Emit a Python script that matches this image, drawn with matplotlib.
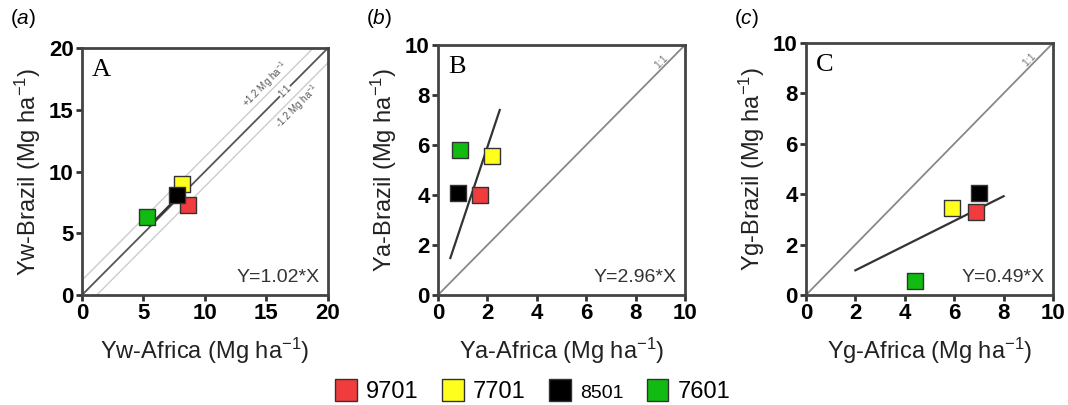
import matplotlib
matplotlib.use("Agg")
import matplotlib.pyplot as plt
from matplotlib.patches import Patch

plt.rcParams['font.family'] = ['Liberation Sans', 'DejaVu Sans']
plt.rcParams['mathtext.fontset'] = 'custom'
plt.rcParams['mathtext.rm'] = 'Liberation Sans'
plt.rcParams['mathtext.it'] = 'Liberation Sans:italic'

varieties = ["9701", "7701", "8501", "7601"]
colors = ["#f03c3c", "#ffff1e", "#000000", "#11bb11"]

# Panel A: water-limited yield (Yw)
yw_africa = [8.6, 8.1, 7.7, 5.3]
yw_brazil = [7.3, 9.0, 8.1, 6.3]
# Panel B: actual yield (Ya)
ya_africa = [1.7, 2.2, 0.8, 0.9]
ya_brazil = [4.0, 5.55, 4.1, 5.8]
# Panel C: yield gap (Yg)
yg_africa = [6.9, 5.9, 7.0, 4.4]
yg_brazil = [3.3, 3.45, 4.05, 0.55]

slopes = [1.02, 2.96, 0.49]
fit_ranges = [(5.5, 8.0), (0.5, 2.5), (2.0, 8.0)]
limits = [20, 10, 10]
ticks = [[0, 5, 10, 15, 20], [0, 2, 4, 6, 8, 10], [0, 2, 4, 6, 8, 10]]
prefixes = ["Yw", "Ya", "Yg"]
panel_tags = ["a", "b", "c"]
letters = ["A", "B", "C"]
xs = [yw_africa, ya_africa, yg_africa]
ys = [yw_brazil, ya_brazil, yg_brazil]

fig = plt.figure(figsize=(10.68, 4.05), dpi=100)
lefts = [82, 438, 806]
rights = [328, 685, 1053]
tops = [48, 45, 43]
bottom_px = 295

for i in range(3):
    ax = fig.add_axes([lefts[i] / 1068, (405 - bottom_px) / 405,
                       (rights[i] - lefts[i]) / 1068, (bottom_px - tops[i]) / 405])
    lim = limits[i]
    ax.set_xlim(0, lim)
    ax.set_ylim(0, lim)
    if i == 0:
        ax.plot([0, lim], [0, lim], color="#555555", lw=1.3, zorder=1)
        ax.plot([0, lim], [1.2, lim + 1.2], color="#cccccc", lw=1.0, zorder=1)
        ax.plot([0, lim], [-1.2, lim - 1.2], color="#cccccc", lw=1.0, zorder=1)
        ax.text(14.9, 17.0, "+1.2 Mg ha$^{-1}$", rotation=45, fontsize=7, color="#555555",
                ha="center", va="center")
        ax.text(16.5, 16.5, "1:1", rotation=45, fontsize=7, color="#555555",
                ha="center", va="center",
                bbox=dict(facecolor="white", edgecolor="none", pad=0.3))
        ax.text(17.5, 15.3, "-1.2 Mg ha$^{-1}$", rotation=45, fontsize=7, color="#555555",
                ha="center", va="center")
    else:
        ax.plot([0, lim], [0, lim], color="#888888", lw=1.3, zorder=1)
        ax.text(9.05, 9.35, "1:1", rotation=45, fontsize=7.5, color="#777777",
                ha="center", va="center")
    x0, x1 = fit_ranges[i]
    ax.plot([x0, x1], [slopes[i] * x0, slopes[i] * x1], color="#333333", lw=1.6, zorder=2)
    for xv, yv, c in zip(xs[i], ys[i], colors):
        ax.scatter([xv], [yv], marker="s", s=140, color=c, edgecolor="#333333",
                   linewidth=1.0, zorder=3)
    ax.set_xticks(ticks[i])
    ax.set_yticks(ticks[i])
    ax.tick_params(labelsize=16, width=2, length=4, direction="out", color="#333333",
                   pad=2)
    for lab in ax.get_xticklabels() + ax.get_yticklabels():
        lab.set_fontweight("bold")
    for sp in ax.spines.values():
        sp.set_linewidth(2)
        sp.set_color("#444444")
    ax.set_xlabel(f"{prefixes[i]}-Africa (Mg ha$^{{-1}}$)", fontsize=17, labelpad=8,
                  color="#222222")
    ax.set_ylabel(f"{prefixes[i]}-Brazil (Mg ha$^{{-1}}$)", fontsize=17, labelpad=4,
                  color="#222222")
    ax.text(0.04, 0.955, letters[i], transform=ax.transAxes, fontsize=19,
            family="Liberation Serif", ha="left", va="top")
    ax.text(0.965, 0.035, f"Y={slopes[i]:.2f}*X", transform=ax.transAxes, fontsize=14,
            ha="right", va="bottom", color="#333333")
    fig.text((lefts[i] - 72) / 1068, 1 - 18 / 405,
             r"($\mathit{" + panel_tags[i] + r"}$)", fontsize=15,
             ha="left", va="center")

handles = [Patch(facecolor=c, edgecolor="#333333", linewidth=1.0) for c in colors]
leg = fig.legend(handles, varieties, loc="center", bbox_to_anchor=(533 / 1068, 1 - 391 / 405),
                 ncol=4, frameon=False, fontsize=17, handlelength=0.9, handleheight=1.1,
                 columnspacing=1.0, handletextpad=0.4)
leg.get_texts()[2].set_fontsize(14)

fig.savefig("out.png", dpi=100)
